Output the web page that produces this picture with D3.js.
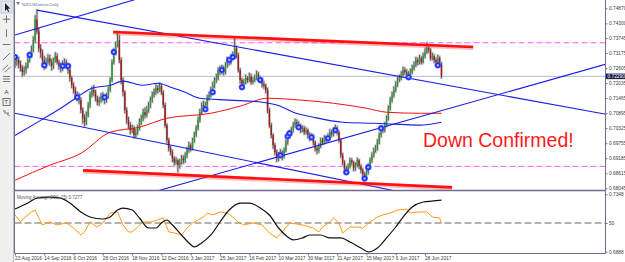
<!DOCTYPE html>
<html>
<head>
<meta charset="utf-8">
<script src="https://cdn.jsdelivr.net/npm/d3@7"></script>
<style>
  html, body { margin: 0; padding: 0; background: #fff; }
  svg { display: block; font-family: "Liberation Sans", Arial, sans-serif; }
</style>
</head>
<body>
<div id="chart"></div>
<script>
////////////////////////////  Data  ////////////////////////////
const dateLabels = ["23 Aug 2016", "14 Sep 2016", "6 Oct 2016", "28 Oct 2016", "18 Nov 2016",
  "12 Dec 2016", "3 Jan 2017", "25 Jan 2017", "16 Feb 2017", "10 Mar 2017", "30 Mar 2017",
  "21 Apr 2017", "15 May 2017", "6 Jun 2017", "28 Jun 2017"];
const dateIdx = [0, 16, 32, 48, 64, 80, 96, 112, 128, 144, 160, 176, 192, 208, 224];

const priceTicks = [0.7487, 0.743, 0.73745, 0.73175, 0.72605, 0.72035, 0.71465,
  0.70895, 0.70325, 0.69755, 0.69185, 0.68615, 0.68045];

// daily bars, in pips (x 0.0001)
const open0 = 7275;
const close = [7283,7291,7275,7262,7245,7253,7268,7291,7310,7329,
7366,7445,7400,7335,7320,7291,7271,7283,7298,7283,
7268,7291,7306,7283,7268,7260,7275,7283,7268,7253,
7222,7196,7177,7158,7150,7139,7101,7070,7055,7082,
7120,7158,7177,7169,7146,7131,7139,7154,7146,7139,
7154,7177,7215,7283,7321,7347,7366,7291,7215,7169,
7101,7063,7044,7025,7032,7006,7017,7032,7055,7070,
7093,7082,7101,7120,7139,7158,7169,7184,7177,7192,
7169,7120,7044,6987,6956,6941,6918,6903,6911,6892,
6903,6918,6911,6930,6949,6968,6956,6987,7006,7032,
7063,7093,7120,7108,7120,7146,7158,7177,7196,7215,
7222,7253,7245,7260,7245,7271,7291,7283,7298,7306,
7336,7310,7253,7215,7196,7207,7222,7215,7230,7207,
7215,7222,7237,7222,7215,7199,7192,7177,7101,7044,
7006,6968,6941,6918,6930,6941,6926,6949,6979,7002,
7013,7025,7044,7055,7047,7040,7025,7032,7017,7025,
7006,6994,7002,6979,6956,6949,6964,6987,6979,6994,
6987,7002,7017,7009,7025,7032,7017,6987,6930,6903,
6880,6873,6888,6911,6903,6880,6892,6911,6888,6873,
6857,6850,6865,6888,6911,6930,6949,6956,6979,7006,
7032,7025,7044,7070,7108,7139,7158,7177,7199,7215,
7222,7234,7253,7245,7237,7230,7245,7260,7271,7291,
7283,7298,7283,7306,7321,7336,7329,7298,7306,7291,
7283,7298,7275,7229];
const high = [7298,7305,7302,7288,7270,7266,7280,7302,7322,7345,
7380,7460,7482,7412,7350,7330,7305,7298,7312,7310,
7295,7300,7320,7315,7290,7280,7288,7296,7292,7278,
7260,7230,7205,7188,7170,7165,7148,7110,7085,7095,
7130,7170,7190,7195,7178,7155,7150,7165,7168,7155,
7166,7188,7225,7292,7335,7360,7400,7385,7300,7225,
7175,7110,7075,7055,7045,7040,7030,7045,7068,7082,
7105,7110,7115,7132,7150,7170,7182,7198,7195,7205,
7200,7175,7128,7050,6995,6965,6950,6925,6922,6915,
6915,6930,6928,6940,6960,6980,6975,6995,7018,7042,
7075,7105,7130,7135,7132,7158,7170,7188,7208,7225,
7238,7262,7268,7272,7268,7282,7302,7300,7312,7322,
7375,7345,7318,7260,7222,7218,7235,7230,7242,7238,
7226,7235,7250,7245,7230,7222,7210,7200,7185,7108,
7052,7012,6975,6950,6942,6952,6948,6958,6990,7012,
7025,7036,7055,7068,7065,7058,7048,7042,7040,7035,
7030,7015,7012,7008,6985,6962,6975,6995,6995,7005,
7002,7012,7028,7025,7035,7045,7040,7022,6992,6938,
6910,6890,6898,6920,6918,6908,6902,6920,6915,6895,
6880,6865,6875,6898,6920,6940,6958,6968,6990,7015,
7042,7040,7055,7080,7118,7150,7170,7190,7210,7228,
7235,7248,7265,7262,7255,7248,7258,7272,7285,7302,
7300,7310,7305,7318,7335,7358,7350,7335,7318,7312,
7300,7310,7305,7282];
const low = [7262,7270,7260,7248,7228,7232,7240,7260,7282,7300,
7320,7355,7390,7322,7300,7278,7255,7260,7275,7270,
7252,7258,7282,7275,7255,7245,7250,7265,7258,7240,
7210,7185,7165,7145,7135,7125,7090,7050,7040,7045,
7075,7110,7150,7155,7135,7120,7118,7130,7135,7125,
7130,7145,7170,7208,7275,7310,7340,7280,7200,7155,
7090,7050,7030,7010,7015,6995,6998,7008,7025,7045,
7060,7070,7075,7092,7110,7130,7150,7160,7165,7170,
7160,7110,7035,6975,6945,6930,6905,6890,6895,6865,
6880,6895,6898,6902,6920,6940,6945,6950,6978,7000,
7025,7055,7085,7098,7100,7112,7138,7150,7168,7185,
7205,7215,7235,7238,7232,7238,7262,7270,7275,7290,
7300,7298,7245,7202,7185,7188,7200,7205,7208,7198,
7200,7208,7215,7212,7205,7188,7182,7165,7090,7035,
6995,6955,6930,6905,6908,6920,6912,6918,6942,6970,
6995,7005,7018,7035,7038,7030,7015,7018,7008,7010,
6995,6985,6988,6968,6945,6935,6940,6958,6970,6972,
6978,6980,6995,7000,7002,7018,7008,6978,6920,6892,
6868,6860,6865,6880,6892,6870,6872,6885,6878,6862,
6845,6835,6840,6858,6880,6902,6922,6940,6948,6972,
6998,7015,7018,7038,7062,7100,7130,7150,7170,7190,
7208,7215,7228,7235,7225,7220,7222,7238,7252,7265,
7272,7275,7275,7278,7298,7315,7318,7290,7290,7280,
7272,7275,7265,7222];

// blue signal markers (bar index, price in pips)
const markIdx = [0,8,16,26,29,34,49,54,104,108,113,117,119,124,134,145,149,150,155,162,171,175,181,191,193,200,215,231];
const markPrice = [7302,7310,7271,7268,7268,7150,7150,7321,7104,7169,7253,7291,7302,7188,7215,6930,7002,7013,7036,6998,6994,7025,6865,6842,6884,7032,7226,7271];

// moving averages on the price panel (bar index, price in pips)
const blueMaIdx = [0,14,25,34,42,52,59,70,78,85,93,101,117,135,145,152,163,179,196,210,221,233];
const blueMaVal = [7005,7062,7108,7150,7184,7195,7211,7195,7203,7188,7169,7146,7139,7131,7116,7093,7074,7055,7051,7047,7044,7055];
const redMaIdx = [0,19,36,52,68,83,107,123,138,156,174,192,203,221,233];
const redMaVal = [6835,6892,6937,7017,7036,7070,7089,7116,7146,7139,7127,7108,7093,7089,7089];

// drawn objects: [bar index, price]
const trendDown = [[12, 0.7480], [221, 0.72145]];
const channelLow = [[0, 0.7089], [206, 0.6797]];
const trendUpTop = [[0, 0.73855], [64.5, 0.7518]];
const trendUpLow = [[79, 0.6797], [321, 0.72715]];
const resistance = [[53.6, 0.7397], [250.3, 0.7340]];
const support = [[37.2, 0.68725], [238.8, 0.6808]];
const levels = [0.73563, 0.68877];

// sub window: smoothed MA (price units) and oscillator (0-100)
const subMaIdx = [0,7,12,19,25,30,36,41,48,52,56,59,64,68,73,77,80,83,86,91,95,98,102,107,112,117,123,128,134,139,144,149,152,157,161,167,172,178,183,189,193,198,203,208,212,217,223,228,233];
const subMaVal = [0.7230,0.7278,0.7318,0.7326,0.7318,0.7278,0.7206,0.7166,0.7150,0.7166,0.7222,0.7238,0.7222,0.7158,0.7078,0.7078,0.7118,0.7142,0.7102,0.7022,0.6958,0.6926,0.6958,0.7022,0.7126,0.7222,0.7278,0.7278,0.7238,0.7182,0.7078,0.7006,0.6982,0.6998,0.7022,0.7022,0.6998,0.6998,0.6966,0.6918,0.6886,0.6918,0.6998,0.7086,0.7166,0.7246,0.7286,0.7294,0.7302];
const oscIdx = [0,3,5,9,11,13,15,19,23,28,32,36,38,41,45,48,52,56,59,62,64,67,70,74,78,81,84,87,91,94,97,100,103,105,108,112,116,119,122,125,130,135,139,143,146,150,154,157,163,166,168,172,174,177,179,183,187,190,194,198,201,205,209,214,216,221,225,228,232,233];
const oscVal = [57,50.9,54.4,59.6,61.3,54.4,48.3,50.9,48.3,50,45.6,39.6,42.2,50.9,46.5,50,58.7,59.6,48.3,42.2,42.2,46.5,50.9,50.9,52.6,54.4,42.2,41.3,39.6,45.6,50,52.6,55.2,58.7,57,59.6,58.7,55.2,50.9,48.3,50,48.3,41.3,37,42.2,50,49.1,48.3,45.6,42.2,46.5,50.9,54.4,50,41.3,46.5,46.5,45.6,50.9,55.2,57,58.7,61.3,62.2,58.7,59.6,59.6,55.2,54.4,50];
const subMaTicks = [0.7348, 0.6888];
const oscTicks = [50];

////////////////////////////  Init  ////////////////////////////
const width = 625, height = 262;
const plotLeft = 14.5, axisX = 605.5, mainBottom = 190, subBottom = 253.5;

const svg = d3.select("#chart").append("svg")
  .attr("width", width).attr("height", height);

const pip = (v) => v / 10000;

const x = d3.scaleLinear().domain([0, 224]).range([15, 425]);
const y = d3.scaleLinear().domain([0.68045, 0.7487]).range([188.3, 8.3]);
const ySub = d3.scaleLinear().domain([0.6888, 0.7348]).range([251.7, 194.3]);
const yOsc = d3.scaleLinear().domain([25, 75]).range([251.7, 194.3]);

svg.append("defs").append("clipPath").attr("id", "clip-main")
  .append("rect").attr("x", plotLeft).attr("y", 0)
  .attr("width", axisX - plotLeft).attr("height", mainBottom);
svg.select("defs").append("clipPath").attr("id", "clip-sub")
  .append("rect").attr("x", plotLeft).attr("y", mainBottom + 1)
  .attr("width", axisX - plotLeft).attr("height", subBottom - mainBottom - 1);

const main = svg.append("g").attr("clip-path", "url(#clip-main)");
const sub = svg.append("g").attr("clip-path", "url(#clip-sub)");

// price level lines
main.append("line")
  .attr("x1", plotLeft).attr("x2", axisX)
  .attr("y1", y(pip(close[close.length - 1]))).attr("y2", y(pip(close[close.length - 1])))
  .attr("stroke", "#b8bcc4").attr("stroke-width", 1);

main.selectAll(".level").data(levels).enter().append("line")
  .attr("x1", plotLeft).attr("x2", axisX)
  .attr("y1", (d) => y(d)).attr("y2", (d) => y(d))
  .attr("stroke", "#ff55ff").attr("stroke-width", 1)
  .attr("stroke-dasharray", "6,3");

// candles
const bars = close.map((c, i) => ({
  i, o: pip(i ? close[i - 1] : open0), c: pip(c), h: pip(high[i]), l: pip(low[i]),
}));

main.selectAll(".ghost").data(bars).enter().append("rect")
  .attr("x", (d) => x(d.i) - 1.3).attr("width", 2.6)
  .attr("y", (d) => y(d.h) - 1).attr("height", (d) => y(d.l) - y(d.h) + 2)
  .attr("fill", "#cdcdcd");

main.selectAll(".wick").data(bars).enter().append("line")
  .attr("x1", (d) => x(d.i)).attr("x2", (d) => x(d.i))
  .attr("y1", (d) => y(d.h)).attr("y2", (d) => y(d.l))
  .attr("stroke", "#3a3a3a").attr("stroke-width", 0.8);

main.selectAll(".body").data(bars).enter().append("rect")
  .attr("x", (d) => x(d.i) - 0.7).attr("width", 1.4)
  .attr("y", (d) => y(Math.max(d.o, d.c)))
  .attr("height", (d) => Math.max(0.8, Math.abs(y(d.o) - y(d.c))))
  .attr("fill", (d) => (d.c >= d.o ? "#2f9a3a" : "#a11a1a"));

// moving averages
const maLine = d3.line().curve(d3.curveMonotoneX);
main.append("path")
  .attr("d", maLine(redMaIdx.map((d, k) => [x(d), y(pip(redMaVal[k]))])))
  .attr("fill", "none").attr("stroke", "#ee1111").attr("stroke-width", 1);
main.append("path")
  .attr("d", maLine(blueMaIdx.map((d, k) => [x(d), y(pip(blueMaVal[k]))])))
  .attr("fill", "none").attr("stroke", "#1622e0").attr("stroke-width", 1.1);

// trend lines (rays extended to the right edge, clipped)
const extend = (pts, toIdx) => {
  const [a, b] = pts;
  const p = a[1] + ((b[1] - a[1]) * (toIdx - a[0])) / (b[0] - a[0]);
  return [[x(a[0]), y(a[1])], [x(toIdx), y(p)]];
};
[trendDown, channelLow, trendUpTop, trendUpLow].forEach((pts) => {
  main.append("path")
    .attr("d", d3.line()(extend(pts, 340)))
    .attr("stroke", "#1a1ae6").attr("stroke-width", 1.1).attr("fill", "none");
});

// support / resistance
[resistance, support].forEach((pts) => {
  const seg = pts.map((d) => [x(d[0]), y(d[1])]);
  main.append("path").attr("d", d3.line()(seg.map((p) => [p[0], p[1] + 0.8])))
    .attr("stroke", "rgba(255,60,60,0.35)").attr("stroke-width", 4.5).attr("fill", "none");
  main.append("path").attr("d", d3.line()(seg))
    .attr("stroke", "#ff1010").attr("stroke-width", 2.6).attr("fill", "none");
});

// markers
const marks = main.selectAll(".mark").data(markIdx).enter().append("g")
  .attr("transform", (d, k) => `translate(${x(d)},${y(pip(markPrice[k]))})`);
marks.append("circle").attr("r", 3).attr("fill", "#1a2cff").attr("stroke", "#5a6cff").attr("stroke-width", 0.5);
marks.append("circle").attr("r", 1.2).attr("fill", "#a8b4ff");

// annotation
svg.append("text")
  .attr("x", 423).attr("y", 147)
  .attr("font-size", 19.5).attr("fill", "#ff1a1a")
  .text("Down Confirmed!");

// sub window
sub.append("line")
  .attr("x1", plotLeft).attr("x2", axisX)
  .attr("y1", yOsc(50)).attr("y2", yOsc(50))
  .attr("stroke", "#555").attr("stroke-width", 0.9).attr("stroke-dasharray", "7,3");
sub.append("path")
  .attr("d", d3.line()(oscIdx.map((d, k) => [x(d), yOsc(oscVal[k])])))
  .attr("fill", "none").attr("stroke", "#ff9a10").attr("stroke-width", 1);
sub.append("path")
  .attr("d", d3.line().curve(d3.curveMonotoneX)(subMaIdx.map((d, k) => [x(d), ySub(subMaVal[k])])))
  .attr("fill", "none").attr("stroke", "#111").attr("stroke-width", 1.2);

svg.append("text")
  .attr("x", 17).attr("y", 198.5)
  .attr("font-size", 4.5).attr("fill", "#555")
  .text("Moving Average(200, 15) 0.7277");

// frame
const frame = svg.append("g").attr("stroke", "#6c6c94").attr("fill", "none");
frame.append("line").attr("x1", plotLeft).attr("x2", plotLeft).attr("y1", 0).attr("y2", subBottom);
frame.append("line").attr("x1", axisX).attr("x2", axisX).attr("y1", 0).attr("y2", subBottom);
frame.append("line").attr("x1", plotLeft).attr("x2", axisX).attr("y1", mainBottom + 0.5).attr("y2", mainBottom + 0.5).attr("stroke-width", 1.3);
frame.append("line").attr("x1", plotLeft).attr("x2", axisX).attr("y1", subBottom).attr("y2", subBottom);

// axes
const styleAxis = (g) => {
  g.select(".domain").remove();
  g.selectAll(".tick line").attr("stroke", "#6c6c94");
  g.selectAll(".tick text").attr("fill", "#3a3a3a").attr("font-size", 4.8)
    .attr("font-family", '"Liberation Sans", Arial, sans-serif');
};
svg.append("g").attr("transform", `translate(${axisX},0)`)
  .call(d3.axisRight(y).tickValues(priceTicks).tickFormat(d3.format(".5f")).tickSize(2).tickPadding(1.5))
  .call(styleAxis);
svg.append("g").attr("transform", `translate(${axisX},0)`)
  .call(d3.axisRight(ySub).tickValues(subMaTicks).tickFormat(d3.format(".4f")).tickSize(2).tickPadding(1.5))
  .call(styleAxis);
svg.append("g").attr("transform", `translate(${axisX},0)`)
  .call(d3.axisRight(yOsc).tickValues(oscTicks).tickFormat(d3.format("d")).tickSize(2).tickPadding(1.5))
  .call(styleAxis);
svg.append("g").attr("transform", `translate(0,${subBottom})`)
  .call(d3.axisBottom(x).tickValues(dateIdx).tickFormat((d, k) => dateLabels[k]).tickSize(2).tickPadding(1))
  .call(styleAxis)
  .call((g) => g.selectAll(".tick text").attr("text-anchor", "start").attr("dx", -0.5));

// current price box
const last = pip(close[close.length - 1]);
svg.append("rect").attr("x", axisX + 0.5).attr("y", y(last) - 2.8)
  .attr("width", 19).attr("height", 5.6).attr("fill", "#1c1c4a");
svg.append("text").attr("x", axisX + 2).attr("y", y(last) + 1.6)
  .attr("font-size", 4.8).attr("fill", "#fff").text(d3.format(".5f")(last));

// title
svg.append("path").attr("d", "M16,2 L20,2 L18,5 Z").attr("fill", "#6a7a9a");
svg.append("text").attr("x", 22).attr("y", 5.5)
  .attr("font-size", 4).attr("fill", "#5a6a8a").text("NZDUSDmicro,Daily");

// toolbar
const tb = svg.append("g");
tb.append("rect").attr("x", 0).attr("y", 0).attr("width", 13.5).attr("height", height).attr("fill", "#f0f0f0");
tb.append("rect").attr("x", 1).attr("y", 1).attr("width", 11).attr("height", 12)
  .attr("fill", "#e2e8f2").attr("stroke", "#a8b4c8").attr("stroke-width", 0.6);
const ic = tb.append("g").attr("stroke", "#555").attr("stroke-width", 0.8).attr("fill", "none");
tb.append("path").attr("d", "M5,3 L5,11 L6.8,9.3 L8.2,12 L9.2,11.5 L7.9,8.8 L10.2,8.6 Z").attr("fill", "#222");
ic.append("path").attr("d", "M6.5,15.5 V23 M2.8,19.2 H10.2");
ic.append("path").attr("d", "M6.5,29.5 V37");
ic.append("path").attr("d", "M2.8,44.5 H10.2");
ic.append("path").attr("d", "M3,60 L10,53");
ic.append("path").attr("d", "M2.5,70 L8,65 M5,72 L10.5,67");
ic.append("path").attr("d", "M3,76.5 H10 M3,79 H10 M3,81.5 H10");
tb.append("text").attr("x", 4.5).attr("y", 93.5).attr("font-size", 6).attr("fill", "#444").text("A");
ic.append("rect").attr("x", 3).attr("y", 98.5).attr("width", 7).attr("height", 7);
tb.append("text").attr("x", 4.6).attr("y", 104.4).attr("font-size", 5.5).attr("fill", "#444").text("T");
ic.append("path").attr("d", "M3,111 L6,111 M7,114 L10,116 M4,113 L9,113");
tb.append("line").attr("x1", 13.5).attr("x2", 13.5).attr("y1", 0).attr("y2", height).attr("stroke", "#9a9a9a").attr("stroke-width", 0.6);
</script>
</body>
</html>
